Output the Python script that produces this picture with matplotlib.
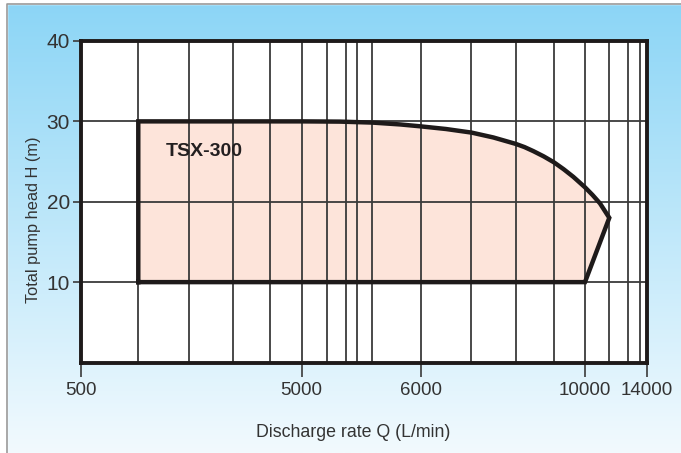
import numpy as np
import matplotlib
matplotlib.use('Agg')
import matplotlib.pyplot as plt
from matplotlib.patches import Rectangle

# Axis labels (the chart uses an irregular, hand-drawn style Q axis)
tick_q = [500, 5000, 6000, 10000, 14000]
tick_labels = ['500', '5000', '6000', '10000', '14000']
grid_q = [1668, 2700, 3600, 4350, 5000, 5210, 5372, 5467, 5593, 6000,
          7232, 8313, 9246, 10000, 11575, 12807, 13566]
grid_h = [10, 20, 30]

# Operating range of TSX-300 (Q in L/min, H in m)
curve_q = [5000, 5322, 5593, 5826, 6000, 6616, 7242, 7768, 8040, 8313,
           8528, 8742, 8993, 9246, 9480, 9716, 10000, 10486, 10972, 11575]
curve_h = [30.0, 29.97, 29.85, 29.62, 29.38, 29.05, 28.6, 28.0, 27.6, 27.2,
           26.8, 26.3, 25.65, 24.9, 24.05, 23.1, 21.8, 20.85, 19.8, 18.0]
q_min, q_low_max = 1668, 10000
h_min, h_max = 10, 30

# piecewise mapping used by the original drawing (labelled ticks are the anchors)
anchor_u = [0.0, 0.3901, 0.6005, 0.8909, 1.0]


def fwd(q):
    return np.interp(q, tick_q, anchor_u)


def inv(u):
    return np.interp(u, anchor_u, tick_q)


fig = plt.figure(figsize=(6.81, 4.53), dpi=100)

# background gradient panel
bg = fig.add_axes([0, 0, 1, 1], zorder=-10)
bg.set_axis_off()
top = np.array([0x8b, 0xd5, 0xf6]) / 255
bottom = np.array([0xf2, 0xfa, 0xfe]) / 255
t = np.linspace(0, 1, 256)[:, None]
grad = top[None, :] * (1 - t) + bottom[None, :] * t
bg.imshow(grad[:, None, :], aspect='auto', extent=[0, 1, 0, 1], origin='upper')
bg.set_xlim(0, 1)
bg.set_ylim(0, 1)
bg.add_patch(Rectangle((0, 0), 6.5 / 681, 1, color='white', zorder=2))
bg.add_patch(Rectangle((0, 1 - 3.5 / 453), 1, 3.5 / 453, color='white', zorder=2))
bg.plot([6.5 / 681, 6.5 / 681, 1], [0, 1 - 3.5 / 453, 1 - 3.5 / 453],
        color='#9a9a9a', lw=1.2, zorder=3)

ax = fig.add_axes([81 / 681, 1 - 362.5 / 453, 565.7 / 681, 321.5 / 453])
ax.set_xscale('function', functions=(fwd, inv))
ax.set_xlim(500, 14000)
ax.set_ylim(0, 40)
ax.set_facecolor('white')

# polygon of the operating range
poly_q = [q_min, q_min] + curve_q + [q_low_max, q_min]
poly_h = [h_min, h_max] + curve_h + [h_min, h_min]
ax.fill(poly_q, poly_h, color='#fde4da', zorder=1, lw=0)

for q in grid_q:
    ax.axvline(q, color='#3a3a3a', lw=1.3, zorder=2)
for h in grid_h:
    ax.axhline(h, color='#3a3a3a', lw=1.3, zorder=2)

ax.plot(poly_q, poly_h, color='#1e1a1a', lw=3.2, zorder=3,
        solid_joinstyle='miter')

ax.text(3018, 26.3, 'TSX-300', fontsize=14, fontweight='bold',
        color='#231f20', ha='center', va='center', family='Liberation Sans',
        zorder=4)

for s in ax.spines.values():
    s.set_linewidth(2.8)
    s.set_color('#1e1a1a')

ax.set_xticks(tick_q)
ax.set_xticklabels(tick_labels)
ax.set_yticks([10, 20, 30, 40])
ax.tick_params(axis='x', length=10, width=1.2, color='#3a3a3a', pad=4,
               labelsize=13.5, labelcolor='#333333')
ax.tick_params(axis='y', length=6, width=1.2, color='#3a3a3a', pad=2,
               labelsize=15, labelcolor='#333333')
for lab in ax.get_xticklabels() + ax.get_yticklabels():
    lab.set_family('Liberation Sans')

ax.set_xlabel('Discharge rate Q (L/min)', fontsize=12.8, color='#333333',
              family='Liberation Sans')
ax.set_ylabel('Total pump head H (m)', fontsize=11.8, color='#333333',
              family='Liberation Sans')
ax.xaxis.set_label_coords(0.4817, -0.19)
ax.yaxis.set_label_coords(-0.07, 0.4436)

fig.savefig('out.png', dpi=100)
